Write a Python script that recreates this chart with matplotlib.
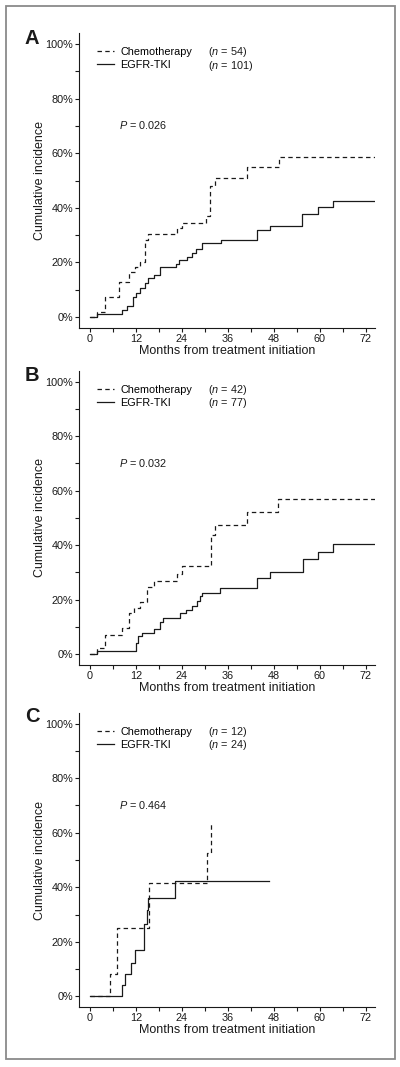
import matplotlib
matplotlib.use("Agg")
import matplotlib.pyplot as plt
from matplotlib.lines import Line2D
from matplotlib.patches import Rectangle
from matplotlib.ticker import MultipleLocator, FuncFormatter

plt.rcParams["font.family"] = ["Liberation Sans", "DejaVu Sans"]
plt.rcParams["mathtext.fontset"] = "custom"
plt.rcParams["mathtext.rm"] = "Liberation Sans"
plt.rcParams["mathtext.it"] = "Liberation Sans:italic"
plt.rcParams["lines.scale_dashes"] = False

# ---- data (months, cumulative incidence in %) ----
a_chemo_t = [0, 1.9, 3.9, 7.5, 10.3, 11.75, 13.05, 14.4, 15.2, 22.6, 23.9, 30.3, 31.3, 32.6, 40.9, 49.4, 75]
a_chemo_v = [0, 1.8, 7.4, 12.9, 16.6, 18.4, 20.3, 28.2, 30.4, 32.5, 34.5, 37.0, 48.0, 51.0, 54.8, 58.6, 58.6]
a_egfr_t = [0, 1.7, 8.3, 9.6, 11.3, 12.0, 13.05, 14.4, 15.2, 16.7, 18.3, 22.5, 23.3, 25.2, 26.5, 27.7, 29.2,
            34.1, 43.5, 47.0, 55.4, 59.6, 63.5, 75]
a_egfr_v = [0, 1.1, 2.6, 4.0, 7.4, 8.9, 10.5, 12.3, 14.4, 15.4, 18.2, 19.3, 20.9, 22.1, 23.3, 24.8, 27.0,
            28.2, 31.9, 33.3, 37.7, 40.2, 42.5, 42.5]

b_chemo_t = [0, 1.9, 3.9, 8.3, 10.3, 11.5, 13.1, 14.8, 16.7, 22.6, 23.9, 31.5, 32.6, 40.9, 49.2, 75]
b_chemo_v = [0, 2.2, 7.1, 9.5, 15.0, 16.9, 19.3, 24.6, 27.0, 29.5, 32.2, 43.8, 47.4, 52.1, 57.0, 57.0]
b_egfr_t = [0, 1.9, 12.0, 12.6, 13.5, 16.7, 18.3, 19.1, 23.5, 25.0, 26.5, 27.9, 28.7, 29.2, 33.9,
            43.5, 47.0, 55.5, 59.6, 63.4, 75]
b_egfr_v = [0, 1.2, 4.0, 6.5, 7.7, 9.3, 11.6, 13.4, 14.9, 16.3, 17.8, 19.6, 21.4, 22.4, 24.2,
            27.9, 30.3, 35.0, 37.5, 40.3, 40.3]

c_chemo_t = [0, 5.2, 7.1, 15.3, 30.5, 31.5]
c_chemo_v = [0, 8.1, 24.9, 41.7, 52.7, 63.6]
c_egfr_t = [0, 8.3, 9.1, 10.7, 11.75, 14.2, 14.8, 15.2, 22.2, 46.6]
c_egfr_v = [0, 4.0, 8.1, 12.3, 16.9, 26.6, 31.5, 36.2, 42.3, 42.3]

panel_letters = ["A", "B", "C"]
n_chemo = [54, 42, 12]
n_egfr = [101, 77, 24]
p_values = ["0.026", "0.032", "0.464"]

INK = "#1a1a1a"
DASHES = (3.2, 2.4)


def plot_panel(ax, chemo_t, chemo_v, egfr_t, egfr_v, n_c, n_e, p_text):
    ax.step(chemo_t, chemo_v, where="post", color=INK, lw=0.9, dashes=DASHES)
    ax.step(egfr_t, egfr_v, where="post", color=INK, lw=0.9)

    ax.set_xlim(-2.87, 74.4)
    ax.set_ylim(-4.0, 104.0)
    ax.xaxis.set_major_locator(MultipleLocator(12))
    ax.xaxis.set_minor_locator(MultipleLocator(6))
    ax.yaxis.set_major_locator(MultipleLocator(20))
    ax.yaxis.set_minor_locator(MultipleLocator(10))
    ax.yaxis.set_major_formatter(FuncFormatter(lambda v, _: f"{int(v)}%"))

    for side in ("top", "right"):
        ax.spines[side].set_visible(False)
    for side in ("left", "bottom"):
        ax.spines[side].set_linewidth(0.8)
        ax.spines[side].set_color(INK)
    ax.tick_params(which="both", direction="out", length=3, width=0.8, color=INK,
                   labelsize=7.8, labelcolor=INK, pad=1.2)

    ax.set_xlabel("Months from treatment initiation", fontsize=9, color=INK)
    ax.set_ylabel("Cumulative incidence", fontsize=9, color=INK)
    ax.xaxis.set_label_coords(0.5, -0.058)
    ax.yaxis.set_label_coords(-0.112, 0.5)

    handles = [
        Line2D([], [], color=INK, lw=0.9, dashes=DASHES),
        Line2D([], [], color=INK, lw=0.9),
    ]
    ax.legend(handles, ["Chemotherapy", "EGFR-TKI"], loc="upper left",
              bbox_to_anchor=(0.062, 0.952), frameon=False, fontsize=7.8,
              handlelength=1.55, handletextpad=0.55, labelspacing=0.25,
              borderaxespad=0, borderpad=0)
    ax.text(0.436, 0.935, f"($n$ = {n_c})", transform=ax.transAxes,
            fontsize=7.8, va="center", ha="left", color=INK)
    ax.text(0.436, 0.889, f"($n$ = {n_e})", transform=ax.transAxes,
            fontsize=7.8, va="center", ha="left", color=INK)
    ax.text(0.135, 0.688, f"$P$ = {p_text}", transform=ax.transAxes,
            fontsize=7.8, va="center", ha="left", color=INK)


def main():
    fig = plt.figure(figsize=(4.0, 10.67), dpi=100)
    W, H = 400, 1067

    # outer grey frame
    fig.patches.append(Rectangle((6 / W, 1 - 1059 / H), 389 / W, 1053 / H,
                                 transform=fig.transFigure, fill=False,
                                 edgecolor="#8a8a8a", lw=1.3))

    # axes boxes in pixels: (spine top, spine bottom)
    boxes = [(33, 328), (370.7, 665), (712.7, 1007.3)]
    letter_y = [38.7, 375.3, 716]
    data = [
        (a_chemo_t, a_chemo_v, a_egfr_t, a_egfr_v),
        (b_chemo_t, b_chemo_v, b_egfr_t, b_egfr_v),
        (c_chemo_t, c_chemo_v, c_egfr_t, c_egfr_v),
    ]

    for i, (top, bottom) in enumerate(boxes):
        ax = fig.add_axes([79 / W, 1 - bottom / H, 296 / W, (bottom - top) / H])
        plot_panel(ax, *data[i], n_chemo[i], n_egfr[i], p_values[i])
        fig.text(32 / W, 1 - letter_y[i] / H, panel_letters[i], fontsize=14.5,
                 fontweight="bold", ha="center", va="center", color=INK)

    fig.savefig("out.png", dpi=100)
    plt.close(fig)


if __name__ == "__main__":
    main()
